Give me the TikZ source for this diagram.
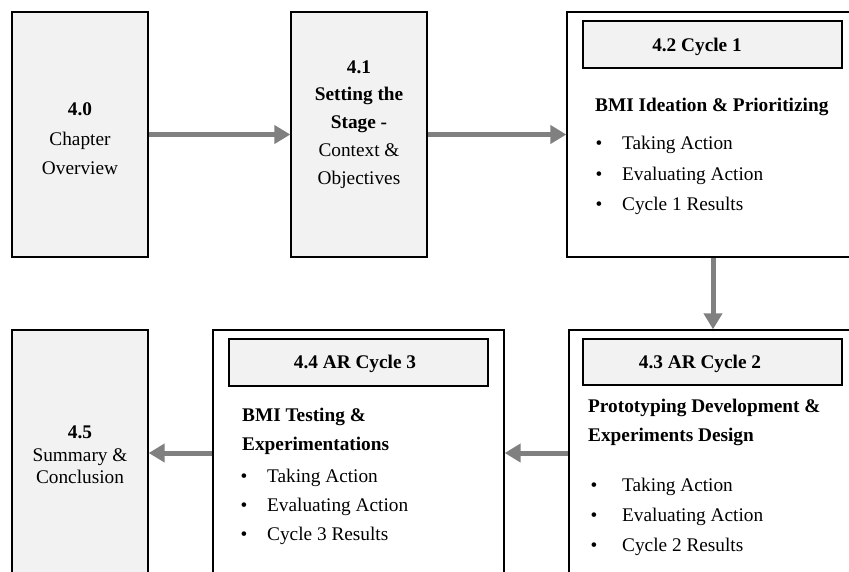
\documentclass[tikz,border=0pt]{standalone}
\usepackage{fontspec}
\setmainfont{Liberation Serif}
\usetikzlibrary{arrows.meta}
\definecolor{panelgray}{HTML}{F2F2F2}
\definecolor{flowgray}{HTML}{808080}

\begin{document}
\begin{tikzpicture}[x=1pt,y=-1pt,
  panel/.style={draw=black, line width=1.3pt, rectangle, inner sep=0pt, fill=white},
  graypanel/.style={panel, fill=panelgray},
  header/.style={draw=black, line width=1.3pt, rectangle, inner sep=0pt, fill=panelgray,
                 minimum width=259pt},
  flow/.style={draw=flowgray, line width=5pt, -{Triangle[length=16pt,width=18pt]}},
  txt/.style={font=\fontsize{19.3}{23}\selectfont, inner sep=0pt, anchor=base west},
  ctxt/.style={font=\fontsize{19.3}{23}\selectfont, inner sep=0pt, anchor=base},
  bul/.style={font=\fontsize{19.3}{23}\selectfont, inner sep=0pt, anchor=base}
]
\useasboundingbox (0,0) rectangle (849,571);
\clip (0,0) rectangle (849,571);

% upper row of panels
\node[graypanel, minimum width=136pt, minimum height=245pt] (b40) at (80,134.5) {};
\node[graypanel, minimum width=136pt, minimum height=245pt] (b41) at (359,134.5) {};
\node[panel, minimum width=303pt, minimum height=245pt] (b42) at (718.5,134.5) {};
\node[header, minimum height=47pt] (h42) at (712.5,44.5) {};

% lower row of panels (running off the bottom edge)
\node[graypanel, minimum width=136pt, minimum height=290pt] (b45) at (80,475) {};
\node[panel, minimum width=291pt, minimum height=290pt] (b44) at (358.5,475) {};
\node[header, minimum height=47pt] (h44) at (358.5,362.5) {};
\node[panel, minimum width=301pt, minimum height=290pt] (b43) at (719.5,475) {};
\node[header, minimum height=46pt] (h43) at (712.5,362) {};

% 4.0
\node[ctxt] (t40a) at (80,115) {\bfseries 4.0};
\node[ctxt] (t40b) at (80,145) {Chapter};
\node[ctxt] (t40c) at (80,174) {Overview};

% 4.1
\node[ctxt] (t41a) at (359,73) {\bfseries 4.1};
\node[ctxt] (t41b) at (359,100.75) {\bfseries Setting the};
\node[ctxt] (t41c) at (359,128.5) {\bfseries Stage -};
\node[ctxt] (t41d) at (359,156.25) {Context \&};
\node[ctxt] (t41e) at (359,184) {Objectives};

% 4.2
\node[ctxt] (t42h) at (697,51) {\bfseries 4.2 Cycle 1};
\node[txt] (t42a) at (595,111) {\bfseries BMI Ideation \& Prioritizing};
\node[bul] (u42a) at (599,149) {•};
\node[txt] (t42b) at (622,149) {Taking Action};
\node[bul] (u42b) at (599,180) {•};
\node[txt] (t42c) at (622,180) {Evaluating Action};
\node[bul] (u42c) at (599,210) {•};
\node[txt] (t42d) at (622,210) {Cycle 1 Results};

% 4.3
\node[ctxt] (t43h) at (700,368) {\bfseries 4.3 AR Cycle 2};
\node[txt] (t43a) at (588,412) {\bfseries Prototyping Development \&};
\node[txt] (t43b) at (588,441) {\bfseries Experiments Design};
\node[bul] (u43a) at (594,491) {•};
\node[txt] (t43c) at (622,491) {Taking Action};
\node[bul] (u43b) at (594,521) {•};
\node[txt] (t43d) at (622,521) {Evaluating Action};
\node[bul] (u43c) at (594,551) {•};
\node[txt] (t43e) at (622,551) {Cycle 2 Results};

% 4.4
\node[ctxt] (t44h) at (355,368) {\bfseries 4.4 AR Cycle 3};
\node[txt] (t44a) at (242,421) {\bfseries BMI Testing \&};
\node[txt] (t44b) at (242,450) {\bfseries Experimentations};
\node[bul] (u44a) at (244,482) {•};
\node[txt] (t44c) at (267,482) {Taking Action};
\node[bul] (u44b) at (244,511) {•};
\node[txt] (t44d) at (267,511) {Evaluating Action};
\node[bul] (u44c) at (244,540) {•};
\node[txt] (t44e) at (267,540) {Cycle 3 Results};

% 4.5
\node[ctxt] (t45a) at (80,438) {\bfseries 4.5};
\node[ctxt] (t45b) at (80,461) {Summary \&};
\node[ctxt] (t45c) at (80,483) {Conclusion};

% connectors
\coordinate (vx) at (713,0);
\coordinate (ly) at (0,453);
\draw[flow] (b40.east) -- (b41.west);
\draw[flow] (b41.east) -- (b42.west);
\draw[flow] (vx |- b42.south) -- (vx |- b43.north);
\draw[flow] (b43.west |- ly) -- (b44.east |- ly);
\draw[flow] (b44.west |- ly) -- (b45.east |- ly);
\end{tikzpicture}
\end{document}
